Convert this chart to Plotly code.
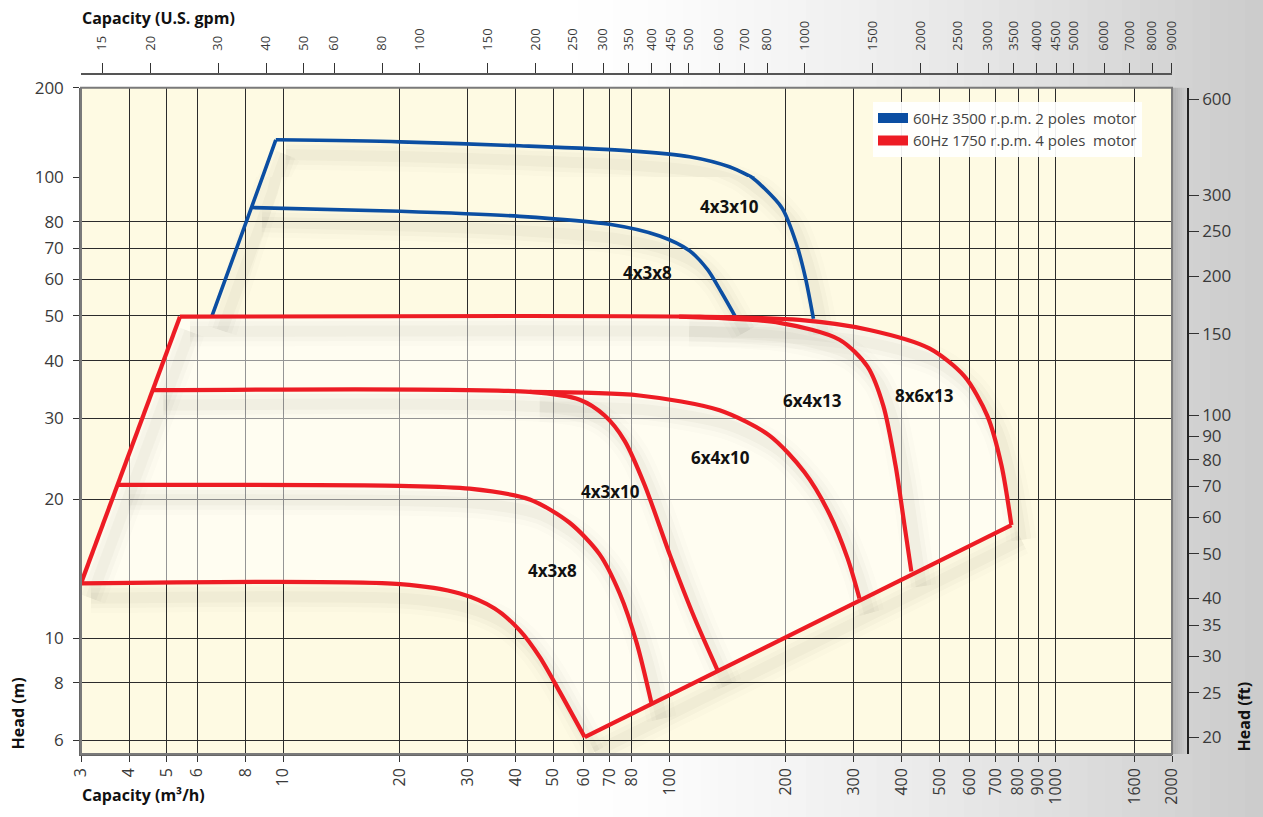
import math
import plotly.graph_objects as go

# ---------------------------------------------------------------- tick values
q_m3h_ticks = [3, 4, 5, 6, 8, 10, 20, 30, 40, 50, 60, 70, 80, 100, 200, 300,
               400, 500, 600, 700, 800, 900, 1000, 1600, 2000]
q_gpm_ticks = [15, 20, 30, 40, 50, 60, 80, 100, 150, 200, 250, 300, 350, 400,
               450, 500, 600, 700, 800, 1000, 1500, 2000, 2500, 3000, 3500,
               4000, 4500, 5000, 6000, 7000, 8000, 9000]
head_m_ticks_low = [6, 8, 10, 20, 30, 40, 50, 60, 70, 80, 100]
head_m_ticks_high = [200]
head_ft_ticks_low = [20, 25, 30, 35, 40, 50, 60, 70, 80, 90, 100, 150, 200, 250, 300]
head_ft_ticks_high = [600]

# ------------------------------------------- 60 Hz 3500 rpm (2 poles) curves
# capacity in m3/h, head in m; the head scale changes pitch at 100 m, so each
# curve is drawn on both head scales and each scale clips its own share
hs_edge_q = [6.55, 8.85, 9.58]
hs_edge_h = [50.0, 100.0, 133.6]
hs_4x3x10_q = [9.58, 20.1, 41.0, 78.9, 112.8, 143.0, 163.2, 171.0, 196.0, 213.0, 225.0, 236.0]
hs_4x3x10_h = [133.6, 131.5, 127.5, 122.6, 117.1, 108.3, 100.0, 96.8, 85.5, 71.9, 60.5, 49.3]
hs_4x3x8_q = [8.31, 20.1, 41.0, 70.0, 94.4, 112.8, 125.6, 136.5, 148.4]
hs_4x3x8_h = [85.9, 84.3, 82.2, 79.0, 74.5, 69.2, 63.0, 56.2, 49.7]

# ------------------------------------------- 60 Hz 1750 rpm (4 poles) curves
ls_left_q = [3.0, 5.41]
ls_left_h = [13.15, 49.8]
ls_bottom_q = [60.4, 768.0]
ls_bottom_h = [6.1, 17.6]
ls_8x6x13_q = [5.41, 119.8, 217.0, 329.6, 471.0, 580.0, 665.0, 724.0, 768.0]
ls_8x6x13_h = [49.8, 49.8, 49.0, 46.6, 42.5, 37.0, 30.4, 23.7, 17.6]
ls_6x4x13_q = [106.0, 193.0, 275.7, 325.8, 358.0, 385.0, 406.0, 423.0]
ls_6x4x13_h = [49.8, 48.3, 44.4, 38.8, 31.9, 23.7, 17.6, 13.95]
ls_6x4x10_q = [43.5, 83.7, 134.9, 181.7, 223.8, 259.7, 289.3, 310.5]
ls_6x4x10_h = [34.2, 33.6, 31.2, 27.5, 22.9, 18.6, 14.9, 12.2]
ls_4x3x10_q = [4.62, 43.5, 58.6, 68.0, 76.6, 86.3, 100.2, 116.2, 133.3]
ls_4x3x10_h = [34.5, 34.2, 32.9, 30.4, 26.8, 21.5, 15.2, 11.06, 8.52]
ls_4x3x8_q = [3.75, 20.1, 30.4, 43.5, 55.2, 66.0, 74.4, 82.3, 90.0]
ls_4x3x8_h = [21.5, 21.4, 21.1, 20.0, 17.8, 15.2, 12.5, 9.77, 7.2]
ls_base_q = [3.0, 20.1, 28.7, 35.3, 41.0, 46.2, 52.0, 60.4]
ls_base_h = [13.15, 13.1, 12.5, 11.6, 10.4, 9.1, 7.66, 6.1]

# ------------------------------------------------------------ curve labels
label_text = ["4x3x10", "4x3x8", "6x4x13", "8x6x13", "6x4x10", "4x3x10", "4x3x8"]
label_q = [143.0, 87.8, 234.7, 457.0, 135.7, 70.5, 49.9]
label_h = [86.4, 62.1, 32.7, 33.6, 24.6, 20.8, 14.0]

legend_names = ["60Hz 3500 r.p.m. 2 poles  motor", "60Hz 1750 r.p.m. 4 poles  motor"]

# ------------------------------------------------------------ constants
GPM_PER_M3H = 4.402868
FT_PER_M = 1 / 0.3048
Q_MIN, Q_MAX = 3, 2000
H_MIN, H_BREAK, H_MAX = 5.61, 100, 200

BLUE = "#0B4EA2"
RED = "#ED1C24"
CREAM = "#FEFAE3"
FONT = "Open Sans"
TICK_COLOR = "#3a3a3a"

# page geometry (px)
W, H = 1263, 817
M_L, M_R, M_T, M_B = 81, 75, 74, 55
PLOT_RIGHT, PLOT_TOP, BREAK_ROW = 1172, 88, 178.3
pw, ph = W - M_L - M_R, H - M_T - M_B
x_end = (PLOT_RIGHT - M_L) / pw
y_break = (H - M_B - BREAK_ROW) / ph
y_top = (H - M_B - PLOT_TOP) / ph

lg = math.log10
ppd_x = (PLOT_RIGHT - M_L) / (lg(Q_MAX) - lg(Q_MIN))
ppd_lo = (H - M_B - BREAK_ROW) / (lg(H_BREAK) - lg(H_MIN))
ppd_hi = (BREAK_ROW - PLOT_TOP) / (lg(H_MAX) - lg(H_BREAK))

# soft drop shadow offset (px)
SH_DX, SH_DY = 10, 15


def px_x(px):
    return (px - M_L) / pw


def px_y(py):
    return (H - M_B - py) / ph


fig = go.Figure()

# envelope of the 1750 rpm range, lightened area
env_q = ls_left_q + ls_8x6x13_q[1:] + ls_bottom_q[::-1][1:] + ls_base_q[::-1][1:]
env_h = ls_left_h + ls_8x6x13_h[1:] + ls_bottom_h[::-1][1:] + ls_base_h[::-1][1:]
fig.add_trace(go.Scatter(x=env_q, y=env_h, mode="lines", fill="toself",
                         fillcolor="rgba(255,255,255,0.5)", line=dict(width=0),
                         hoverinfo="skip", showlegend=False, xaxis="x", yaxis="y"))

blue_lines = [(hs_edge_q, hs_edge_h, "linear"),
              (hs_4x3x10_q, hs_4x3x10_h, "spline"),
              (hs_4x3x8_q, hs_4x3x8_h, "spline")]
red_lines = [(ls_left_q, ls_left_h, "linear"),
             (ls_bottom_q, ls_bottom_h, "linear"),
             (ls_8x6x13_q, ls_8x6x13_h, "spline"),
             (ls_6x4x13_q, ls_6x4x13_h, "spline"),
             (ls_6x4x10_q, ls_6x4x10_h, "spline"),
             (ls_4x3x10_q, ls_4x3x10_h, "spline"),
             (ls_4x3x8_q, ls_4x3x8_h, "spline"),
             (ls_base_q, ls_base_h, "spline")]

# shadows first, so the curves sit on top of them
fx = 10 ** (SH_DX / ppd_x)
for axis, ppd, groups in (("y", ppd_lo, blue_lines + red_lines), ("y3", ppd_hi, blue_lines[:2])):
    fy = 10 ** (-SH_DY / ppd)
    for q, h, shape in groups:
        for wdt, alpha in ((30, 0.016), (20, 0.022), (11, 0.03)):
            fig.add_trace(go.Scatter(
                x=[v * fx for v in q], y=[v * fy for v in h], mode="lines",
                line=dict(color=f"rgba(60,55,35,{alpha})", width=wdt, shape=shape, smoothing=0.8),
                hoverinfo="skip", showlegend=False, xaxis="x", yaxis=axis))

for axis, groups in (("y", blue_lines), ("y3", blue_lines[:2])):
    for q, h, shape in groups:
        fig.add_trace(go.Scatter(x=q, y=h, mode="lines",
                                 line=dict(color=BLUE, width=3.6, shape=shape, smoothing=0.8),
                                 hoverinfo="skip", showlegend=False, xaxis="x", yaxis=axis))
for q, h, shape in red_lines:
    fig.add_trace(go.Scatter(x=q, y=h, mode="lines",
                             line=dict(color=RED, width=4.2, shape=shape, smoothing=0.8),
                             hoverinfo="skip", showlegend=False, xaxis="x", yaxis="y"))

# legend entries
for name, col in zip(legend_names, (BLUE, RED)):
    fig.add_trace(go.Scatter(x=[None], y=[None], mode="lines", name=name,
                             line=dict(color=col, width=12), xaxis="x", yaxis="y"))

# empty traces that hold the secondary scales
for xa, ya in (("x2", "y"), ("x", "y2"), ("x", "y4")):
    fig.add_trace(go.Scatter(x=[None], y=[None], mode="lines", showlegend=False,
                             hoverinfo="skip", xaxis=xa, yaxis=ya))

# curve labels
for t, q, h in zip(label_text, label_q, label_h):
    fig.add_annotation(x=lg(q), y=lg(h), xref="x", yref="y", text=f"<b>{t}</b>",
                       showarrow=False, font=dict(family=FONT, size=17, color="#111"))

# axis titles
titles = [("Capacity (U.S. gpm)", px_x(80), px_y(17), 0, "left"),
          ("Capacity (m³/h)", px_x(80), px_y(803), 0, "left"),
          ("Head (m)", px_x(18), px_y(721), -90, "center"),
          ("Head (ft)", px_x(1244), px_y(724), -90, "center")]
for txt, x, y, ang, xa in titles:
    fig.add_annotation(x=x, y=y, xref="paper", yref="paper", text=f"<b>{txt}</b>",
                       showarrow=False, textangle=ang, xanchor=xa, yanchor="middle",
                       font=dict(family=FONT, size=16, color="#111"))

# grey page shading towards the right edge, shadow beside the plot, plot face
shapes = []
n = 40
x0 = 560
for i in range(n):
    a = x0 + (W - x0) * i / n
    b = x0 + (W - x0) * (i + 1) / n
    t = (i + 0.5) / n
    g = int(round(255 - 52 * t ** 1.4))
    shapes.append(dict(type="rect", xref="paper", yref="paper", layer="below",
                       x0=px_x(a), x1=px_x(b) + 0.001, y0=-0.2, y1=1.2,
                       line=dict(width=0), fillcolor=f"rgb({g},{g},{g})"))
for i in range(10):
    a = PLOT_RIGHT + 2 * i
    t = i / 10
    shapes.append(dict(type="rect", xref="paper", yref="paper", layer="below",
                       x0=px_x(a), x1=px_x(a + 2), y0=0, y1=y_top,
                       line=dict(width=0), fillcolor=f"rgba(80,80,80,{0.28 * (1 - t) ** 1.5:.3f})"))
shapes.append(dict(type="rect", xref="paper", yref="paper", layer="below",
                   x0=0, x1=x_end, y0=0, y1=y_top, line=dict(width=0), fillcolor=CREAM))
# plot frame
shapes.append(dict(type="rect", xref="paper", yref="paper", layer="above",
                   x0=0, x1=x_end, y0=0, y1=y_top, line=dict(color="#7a7a7a", width=2)))

tickfont_l = dict(family=FONT, size=17, color=TICK_COLOR)
common_grid = dict(showgrid=True, gridcolor="#2b2b2b", gridwidth=1, zeroline=False)

fig.update_layout(
    width=W, height=H,
    margin=dict(l=M_L, r=M_R, t=M_T, b=M_B),
    paper_bgcolor="white", plot_bgcolor="rgba(0,0,0,0)",
    shapes=shapes,
    showlegend=True,
    legend=dict(x=px_x(873), y=px_y(102), xanchor="left", yanchor="top",
                bgcolor="rgba(255,255,255,0.92)", borderwidth=0, itemwidth=30,
                font=dict(family=FONT, size=15, color="#444"), tracegroupgap=0),
    xaxis=dict(type="log", range=[lg(Q_MIN), lg(Q_MAX)], domain=[0, x_end], anchor="y",
               tickmode="array", tickvals=q_m3h_ticks, ticktext=[str(v) for v in q_m3h_ticks],
               tickangle=-90, ticks="outside", ticklen=6, tickcolor="#333", tickwidth=1.2,
               showline=True, linecolor="#666", linewidth=1.5,
               tickfont=dict(family=FONT, size=16, color=TICK_COLOR), **common_grid),
    xaxis2=dict(type="log", overlaying="x", side="top", anchor="free", position=1,
                range=[lg(Q_MIN * GPM_PER_M3H), lg(9005)], domain=[0, x_end],
                tickmode="array", tickvals=q_gpm_ticks, ticktext=[str(v) for v in q_gpm_ticks],
                tickangle=-90, ticks="outside", ticklen=10, tickcolor="#333", tickwidth=1.2,
                ticklabelstandoff=10, showline=True, linecolor="#555", linewidth=1.5,
                showgrid=False, zeroline=False,
                tickfont=dict(family=FONT, size=13, color=TICK_COLOR)),
    yaxis=dict(type="log", range=[lg(H_MIN), lg(H_BREAK)], domain=[0, y_break], anchor="x",
               tickmode="array", tickvals=head_m_ticks_low,
               ticktext=[str(v) for v in head_m_ticks_low],
               ticks="outside", ticklen=6, tickcolor="#333", tickwidth=1.2, ticklabelstandoff=6,
               showline=True, linecolor="#666", linewidth=1.5, tickfont=tickfont_l, **common_grid),
    yaxis3=dict(type="log", range=[lg(H_BREAK), lg(H_MAX)], domain=[y_break, y_top], anchor="x",
                tickmode="array", tickvals=head_m_ticks_high,
                ticktext=[str(v) for v in head_m_ticks_high],
                ticks="outside", ticklen=6, tickcolor="#333", tickwidth=1.2, ticklabelstandoff=6,
                showline=True, linecolor="#666", linewidth=1.5, tickfont=tickfont_l, **common_grid),
    yaxis2=dict(type="log", overlaying="y", side="right", anchor="free", position=1,
                range=[lg(H_MIN * FT_PER_M), lg(H_BREAK * FT_PER_M)],
                tickmode="array", tickvals=head_ft_ticks_low,
                ticktext=[str(v) for v in head_ft_ticks_low],
                ticks="outside", ticklen=10, tickcolor="#333", tickwidth=1.2,
                showline=True, linecolor="#222", linewidth=1.5, showgrid=False, zeroline=False,
                tickfont=tickfont_l),
    yaxis4=dict(type="log", overlaying="y3", side="right", anchor="free", position=1,
                range=[lg(H_BREAK * FT_PER_M), lg(H_MAX * FT_PER_M)],
                tickmode="array", tickvals=head_ft_ticks_high,
                ticktext=[str(v) for v in head_ft_ticks_high],
                ticks="outside", ticklen=10, tickcolor="#333", tickwidth=1.2,
                showline=True, linecolor="#222", linewidth=1.5, showgrid=False, zeroline=False,
                tickfont=tickfont_l),
)

fig.write_html("out.html")
